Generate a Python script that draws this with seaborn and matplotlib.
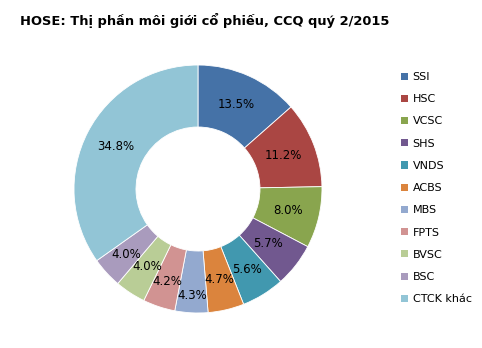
import matplotlib
matplotlib.use("Agg")
import numpy as np
import matplotlib.pyplot as plt
import seaborn as sns
from matplotlib.patches import Patch

categories = ["SSI", "HSC", "VCSC", "SHS", "VNDS", "ACBS", "MBS", "FPTS", "BVSC", "BSC", "CTCK khác"]
values = [13.5, 11.2, 8.0, 5.7, 5.6, 4.7, 4.3, 4.2, 4.0, 4.0, 34.8]
colors = ["#4572A7", "#AA4643", "#89A54E", "#71588F", "#4198AF", "#DB843D",
          "#93A9CF", "#D19392", "#B9CD96", "#A99BBD", "#92C5D6"]
title = "HOSE: Thị phần môi giới cổ phiếu, CCQ quý 2/2015"

# radial position of each data label (fraction of outer radius)
label_radius = [0.75, 0.74, 0.75, 0.72, 0.76, 0.75, 0.86, 0.79, 0.75, 0.78, 0.75]

sns.set_theme(style="white")
plt.rcParams["font.family"] = ["DejaVu Sans"]
plt.rcParams["text.color"] = "black"
palette = sns.color_palette(colors)

fig = plt.figure(figsize=(4.82, 3.48), dpi=100)
ax = fig.add_axes([0.1535, 0.1006, 0.5145, 0.7126])
wedges, texts = ax.pie(values, colors=palette, startangle=90, counterclock=False,
                       radius=1.0, labels=[f"{v:.1f}%" for v in values],
                       labeldistance=0.75,
                       wedgeprops=dict(width=0.5, edgecolor="white", linewidth=0.6),
                       textprops=dict(fontsize=8.5, color="black"))
for w, t, r in zip(wedges, texts, label_radius):
    ang = np.deg2rad((w.theta1 + w.theta2) / 2)
    t.set_position((r * np.cos(ang), r * np.sin(ang)))
    t.set_horizontalalignment("center")
    t.set_verticalalignment("center")
ax.set_xlim(-1, 1)
ax.set_ylim(-1, 1)
ax.set_aspect("equal")

fig.text(20 / 482, 1 - 20 / 348, title, fontsize=9.4, fontweight="bold",
         ha="left", va="center", color="black")

handles = [Patch(facecolor=c, edgecolor="none") for c in palette]
fig.legend(handles, categories, loc="upper left",
           bbox_to_anchor=(401 / 482, 1 - 72 / 348), frameon=False,
           fontsize=8, handlelength=0.6, handleheight=0.6,
           handletextpad=0.45, labelspacing=1.1, borderaxespad=0, borderpad=0,
           labelcolor="black")

fig.savefig("out.png", dpi=100)
